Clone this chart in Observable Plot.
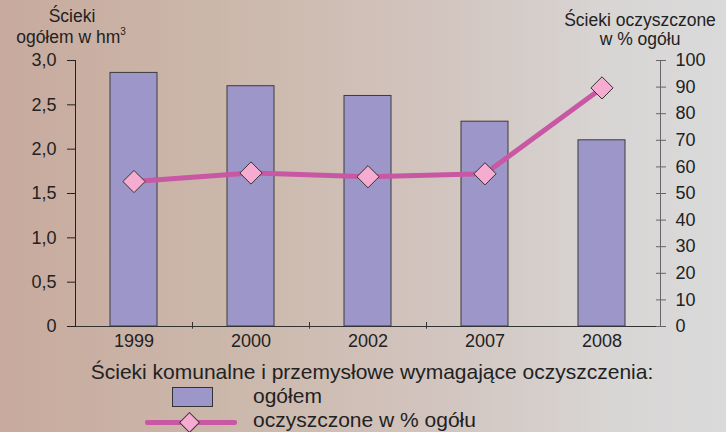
<!DOCTYPE html>
<html>
<head>
<meta charset="utf-8">
<script src="https://cdn.jsdelivr.net/npm/d3@7"></script>
<script src="https://cdn.jsdelivr.net/npm/@observablehq/plot@0.6"></script>
<style>
  html, body { margin: 0; padding: 0; }
  body {
    width: 726px; height: 432px; overflow: hidden;
    background: linear-gradient(to right, #c8aa9e 0%, #cbb7aa 30%, #d2c4be 60%, #d8d6d5 85%, #dadada 100%);
    font-family: "Liberation Sans", Arial, sans-serif; color: #222;
  }
  #wrap { position: relative; width: 726px; height: 432px; }
  #chart { position: absolute; left: 0; top: 0; }
  .t { position: absolute; white-space: nowrap; line-height: 0.9; }
</style>
</head>
<body>
<div id="wrap">
  <div id="chart"></div>
  <div class="t" style="left:0;width:144px;text-align:center;top:9px;font-size:17.5px">Ścieki</div>
  <div class="t" style="left:0;width:142px;text-align:center;top:27px;font-size:17.5px">ogółem w hm<span style="font-size:10px;vertical-align:8px">3</span></div>
  <div class="t" style="left:540px;width:200px;text-align:center;top:12.5px;font-size:17.5px">Ścieki oczyszczone</div>
  <div class="t" style="left:540px;width:200px;text-align:center;top:31.5px;font-size:17.5px">w % ogółu</div>

  <div class="t" style="left:72px;width:600px;text-align:center;top:363px;font-size:21px">Ścieki komunalne i przemysłowe wymagające oczyszczenia:</div>
  <div style="position:absolute;left:172px;top:387px;width:41px;height:20px;box-sizing:border-box;background:#9d97c9;border:1px solid #333"></div>
  <div class="t" style="left:253px;top:386.5px;font-size:21px">ogółem</div>
  <div style="position:absolute;left:145px;top:420px;width:92px;height:5px;background:#c858a3;border-radius:2px"></div>
  <div style="position:absolute;left:182px;top:415px;width:15px;height:15px;box-sizing:border-box;background:#f5acd0;border:1px solid #333;transform:rotate(45deg)"></div>
  <div class="t" style="left:253px;top:411px;font-size:21px">oczyszczone w % ogółu</div>
</div>
<script>
const years = ["1999", "2000", "2002", "2007", "2008"];
const totalHm3 = [2.86, 2.71, 2.6, 2.31, 2.1];
const treatedPct = [54.5, 57.7, 56.3, 57.4, 89.7];
const leftTicks = [0, 0.5, 1, 1.5, 2, 2.5, 3];
const rightTicks = [0, 10, 20, 30, 40, 50, 60, 70, 80, 90, 100];

const k = 3 / 100; // maps percent onto the left (hm3) scale
const W = 726, mL = 75, mR = 66;
const step = (W - mL - mR) / years.length;

const data = years.map((year, i) => ({year, total: totalHm3[i], pct: treatedPct[i]}));
const fmtL = d => d === 0 ? "0" : d.toFixed(1).replace(".", ",");

const chart = Plot.plot({
  width: W, height: 358,
  marginLeft: mL, marginRight: mR, marginTop: 60, marginBottom: 32,
  style: {background: "transparent", fontFamily: "Liberation Sans, Arial, sans-serif", fontSize: "18px", color: "#222"},
  x: {domain: years, paddingInner: 0.6, paddingOuter: 0.3},
  y: {domain: [0, 3]},
  marks: [
    Plot.barY(data, {x: "year", y: "total", fill: "#9d97c9", stroke: "#3a3a3a", strokeWidth: 1}),
    Plot.ruleY([0], {stroke: "#333"}),
    Plot.frame({anchor: "left", stroke: "#222"}),
    Plot.frame({anchor: "right", stroke: "#666"}),
    Plot.axisY({anchor: "left", ticks: leftTicks, tickSize: 8, tickPadding: 11, tickFormat: fmtL, fontSize: 18, label: null, stroke: "#222", fill: "#222"}),
    Plot.axisY({anchor: "right", ticks: rightTicks.map(v => v * k), tickSize: 5, tickPadding: 10, tickFormat: d => String(Math.round(d / k)), fontSize: 18, label: null, stroke: "#666", fill: "#222"}),
    Plot.axisY({anchor: "right", ticks: rightTicks.map(v => v * k), tickSize: 5, dx: -5, tickFormat: () => "", label: null, stroke: "#666"}),
    Plot.axisX({tickSize: 0, tickPadding: 8, fontSize: 18, label: null, fill: "#222"}),
    Plot.ruleX(years.slice(0, 3), {x: d => d, dx: step / 2, y1: -0.03, y2: 0.045, stroke: "#333"}),
    Plot.line(data, {x: "year", y: d => d.pct * k, stroke: "#c858a3", strokeWidth: 5}),
    Plot.dot(data, {x: "year", y: d => d.pct * k, symbol: "diamond2", r: 10, fill: "#f5acd0", stroke: "#333", strokeWidth: 1})
  ]
});
document.getElementById("chart").appendChild(chart);
</script>
</body>
</html>
